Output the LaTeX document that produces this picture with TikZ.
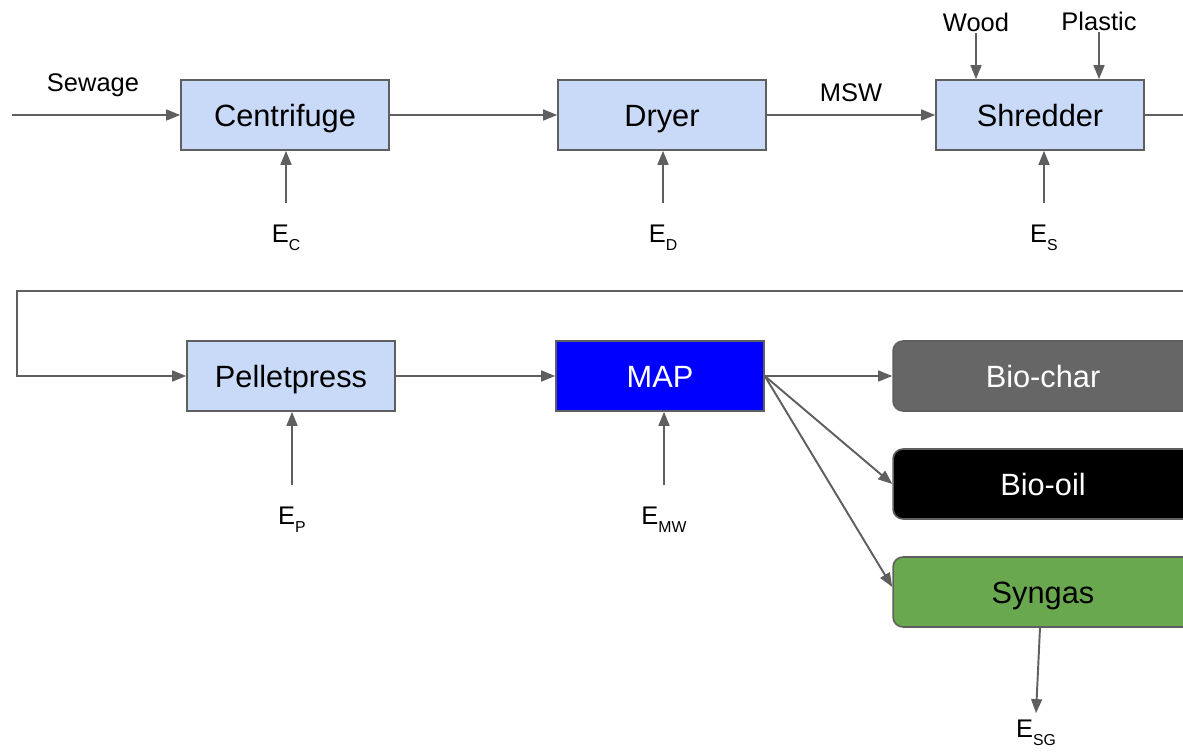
\documentclass[tikz,border=0pt]{standalone}
\usepackage{fontspec}
\setmainfont{Liberation Sans}
\usetikzlibrary{arrows.meta,positioning}
\definecolor{unitblue}{HTML}{C9DAF8}
\definecolor{flowgray}{HTML}{5F5F5F}
\definecolor{chargray}{HTML}{666666}
\definecolor{gasgreen}{HTML}{6AA84F}
% energy input label E with lowered subscript
\newcommand{\enr}[1]{E\lower4.5pt\hbox{\fontsize{9}{10}\selectfont #1}}

\begin{document}
\begin{tikzpicture}[x=0.02cm,y=-0.02cm,
	unit/.style={draw=flowgray,line width=0.9pt,fill=unitblue,minimum width=4.16cm,minimum height=1.4cm,text height=12.6pt,text depth=0pt,font=\fontsize{17.5}{20}\selectfont},
	product/.style={unit,rounded corners=0.2cm,minimum width=6cm},
	flow/.style={draw=flowgray,line width=1.1pt,-{Triangle[length=8pt,width=6.2pt]}},
	stream/.style={font=\fontsize{14.5}{17}\selectfont,inner sep=1pt},
	energy/.style={font=\fontsize{14.5}{17}\selectfont,inner sep=0pt,outer sep=12.5pt}]
	\clip (0,0) rectangle (1183,753);
	% process units
	\node[unit] (centrifuge) at (285,115) {Centrifuge};
	\node[unit] (dryer) at (662,115) {Dryer};
	\node[unit] (shredder) at (1040,115) {Shredder};
	\node[unit] (pelletpress) at (291,376) {Pelletpress};
	\node[unit,fill=blue,text=white] (map) at (660,376) {MAP};
	% products
	\node[product,fill=chargray,text=white] (biochar) at (1043,376) {Bio-char};
	\node[product,fill=black,text=white] (biooil) at (1043,484) {Bio-oil};
	\node[product,fill=gasgreen] (syngas) at (1043,592) {Syngas};
	% streams in
	\coordinate (sewin) at (12,115);
	\node[stream] (sewage) at (93,85) {Sewage};
	\node[stream] (wood) at (976,22) {Wood};
	\node[stream] (plastic) at (1099,21) {Plastic};
	% energy inputs
	\node[energy] (ec) at (286,238) {\enr{C}};
	\node[energy] (ed) at (663,238) {\enr{D}};
	\node[energy] (es) at (1044,238) {\enr{S}};
	\node[energy] (ep) at (292,520) {\enr{P}};
	\node[energy] (emw) at (664,520) {\enr{MW}};
	\node[energy,outer sep=4pt] (esg) at (1036,733) {\enr{SG}};
	% return line
	\coordinate (turnR) at (1200,291);
	\coordinate (turnL) at (17,291);

	\draw[flow] (sewin) -- (centrifuge.west);
	\draw[flow] (centrifuge) -- (dryer);
	\draw[flow] (dryer) -- node[stream,above=6pt] (msw) {MSW} (shredder);
	\draw[flow] (shredder.east) -| (turnR) -- (turnL) |- (pelletpress.west);
	\draw[flow] (pelletpress) -- (map);
	\draw[flow] (wood) -- (wood |- shredder.north);
	\draw[flow] (plastic) -- (plastic |- shredder.north);
	\draw[flow] (ec) -- (ec |- centrifuge.south);
	\draw[flow] (ed) -- (ed |- dryer.south);
	\draw[flow] (es) -- (es |- shredder.south);
	\draw[flow] (ep) -- (ep |- pelletpress.south);
	\draw[flow] (emw) -- (emw |- map.south);
	\draw[flow] (map.east) -- (biochar.west);
	\draw[flow] (map.east) -- (biooil.west);
	\draw[flow] (map.east) -- ([yshift=0.1cm]syngas.west);
	\draw[flow] ([xshift=-0.06cm]syngas.south) -- (esg.north);
\end{tikzpicture}
\end{document}
